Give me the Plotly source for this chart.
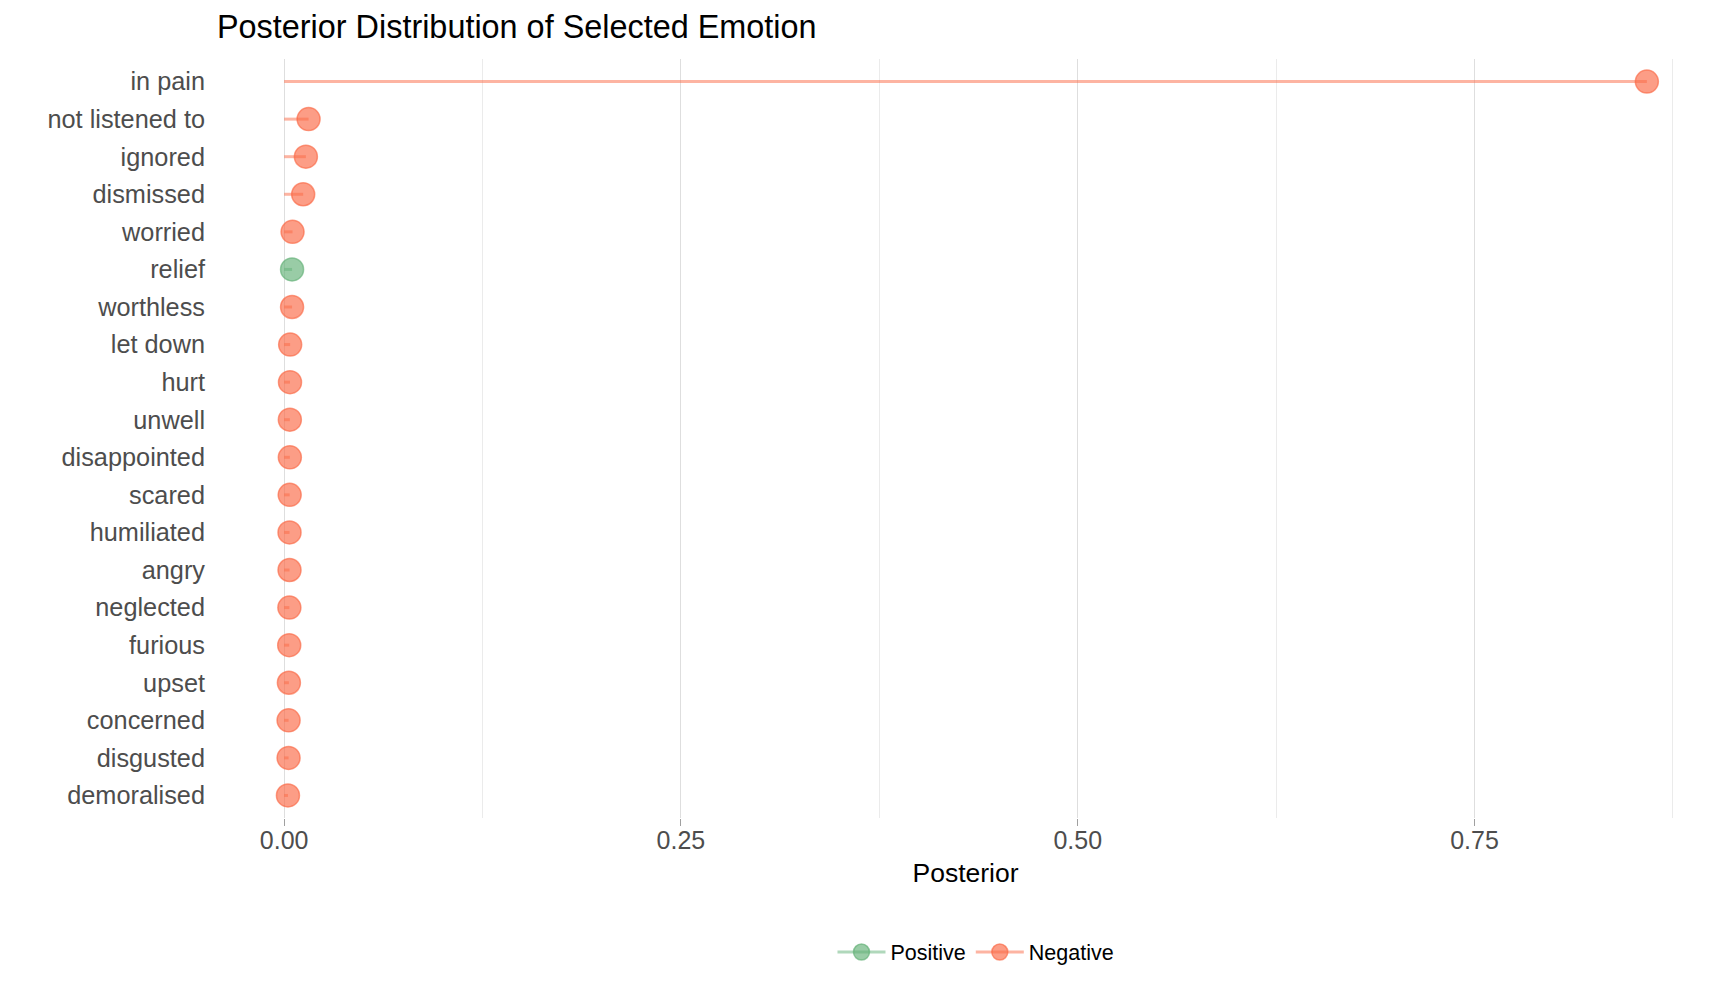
import plotly.graph_objects as go

# Emotion labels, top to bottom
emotions = [
    "in pain", "not listened to", "ignored", "dismissed", "worried",
    "relief", "worthless", "let down", "hurt", "unwell",
    "disappointed", "scared", "humiliated", "angry", "neglected",
    "furious", "upset", "concerned", "disgusted", "demoralised"
]
posterior = [
    0.8586, 0.0154, 0.0137, 0.0120, 0.0053,
    0.0050, 0.0050, 0.0038, 0.0037, 0.0036,
    0.0036, 0.0035, 0.0034, 0.0034, 0.0033,
    0.0032, 0.0030, 0.0028, 0.0028, 0.0024
]
valence = [
    "Negative", "Negative", "Negative", "Negative", "Negative",
    "Positive", "Negative", "Negative", "Negative", "Negative",
    "Negative", "Negative", "Negative", "Negative", "Negative",
    "Negative", "Negative", "Negative", "Negative", "Negative"
]
groups = ["Positive", "Negative"]

# base colours (alpha applied below)
colors = {
    "Positive": (98, 177, 119),
    "Negative": (251, 105, 69),
}


def rgba(c, a):
    return f"rgba({c[0]},{c[1]},{c[2]},{a})"


fig = go.Figure()

for g in groups:
    idx = [i for i, v in enumerate(valence) if v == g]
    # segments from 0 to the posterior value
    seg_x, seg_y = [], []
    for i in idx:
        seg_x += [0, posterior[i], None]
        seg_y += [emotions[i], emotions[i], None]
    fig.add_trace(go.Scatter(
        x=seg_x, y=seg_y, mode="lines",
        line=dict(color=rgba(colors[g], 0.5), width=3),
        showlegend=False, hoverinfo="skip"
    ))

for g in groups:
    idx = [i for i, v in enumerate(valence) if v == g]
    fig.add_trace(go.Scatter(
        x=[posterior[i] for i in idx],
        y=[emotions[i] for i in idx],
        mode="markers",
        marker=dict(size=23, color=rgba(colors[g], 0.65),
                    line=dict(color=rgba(colors[g], 0.65), width=1.5)),
        showlegend=False,
        hovertemplate="%{y}: %{x:.4f}<extra>" + g + "</extra>"
    ))

# legend entries (line + point key)
for g in groups:
    fig.add_trace(go.Scatter(
        x=[None], y=[None], mode="lines+markers", name=g,
        line=dict(color=rgba(colors[g], 0.5), width=3),
        marker=dict(size=20, color=rgba(colors[g], 0.65),
                    line=dict(color=rgba(colors[g], 0.65), width=1.5)),
    ))

xmax = max(posterior)
pad = 0.05 * xmax

# page body adds an 8px offset, margins compensate for it
fig.update_layout(
    width=1730, height=1000,
    margin=dict(l=208, r=23, t=51, b=190),
    paper_bgcolor="white", plot_bgcolor="white",
    font=dict(family="Liberation Sans, Arial, sans-serif", color="#000000"),
    title=dict(
        text="Posterior Distribution of Selected Emotion",
        x=209 / 1730, xref="container", xanchor="left",
        y=1 - 19 / 1000, yref="container", yanchor="middle",
        font=dict(size=32.4, color="#000000")
    ),
    xaxis=dict(
        range=[-pad, xmax + pad],
        tickmode="array", tickvals=[0, 0.25, 0.5, 0.75],
        tickformat=".2f",
        showgrid=True, gridcolor="#DEDEDE", gridwidth=1,
        minor=dict(dtick=0.125, tick0=0, showgrid=True,
                   gridcolor="#EBEBEB", gridwidth=0.8),
        ticks="outside", ticklen=7, tickcolor="#A0A0A0", tickwidth=1,
        ticklabelstandoff=-7,
        tickfont=dict(size=25, color="#4D4D4D"),
        zeroline=False, showline=False,
        title=dict(text="Posterior", font=dict(size=26.5, color="#000000"),
                   standoff=10),
    ),
    yaxis=dict(
        type="category",
        categoryorder="array", categoryarray=emotions,
        range=[len(emotions) - 0.4, -0.6],
        showgrid=False, zeroline=False, showline=False,
        ticks="", ticklabelstandoff=10,
        tickfont=dict(size=25.3, color="#4D4D4D"),
    ),
    legend=dict(
        orientation="h",
        x=0.507, xanchor="center",
        y=-0.1766, yanchor="middle",
        font=dict(size=21.5, color="#000000"),
        itemwidth=48,
        bgcolor="rgba(0,0,0,0)",
    ),
)

fig.write_html("out.html")
